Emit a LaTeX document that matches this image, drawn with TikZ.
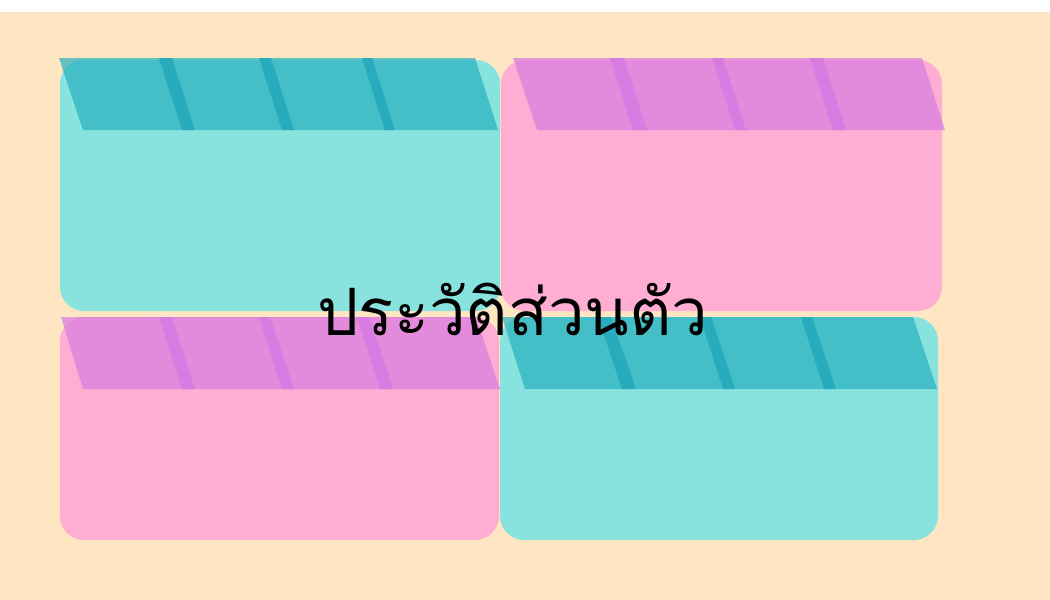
\documentclass[tikz,border=0pt]{standalone}
\usepackage{xcolor}
\usepackage{fontspec}
\newfontfamily\thaifont[Script=Thai]{Loma}
\usepackage{tikz}

\definecolor{peach}{RGB}{255,230,194}
\definecolor{tealcard}{RGB}{136,227,223}
\definecolor{tealhead}{RGB}{40,175,190}
\definecolor{tealstripe}{RGB}{39,171,189}
\definecolor{pinkcard}{RGB}{255,173,211}
\definecolor{pinkhead}{RGB}{216,124,224}
\definecolor{pinkstripe}{RGB}{216,123,227}

\tikzset{
  card/.style={rounded corners=18pt, draw=none},
  header/.style={draw=none, fill opacity=0.7},
  stripe/.style={draw=none}
}

\begin{document}
\begin{tikzpicture}[x=0.75pt,y=0.75pt,yscale=-1,xscale=1]
\useasboundingbox (0,0) rectangle (1050,600);

%Background
\fill [white] (0,0) rectangle (1050,600) ;
\fill [peach] (0,12) rectangle (1050,600) ;

%Shape: Rounded Rect [id:top left]
\draw [card, fill=tealcard] (60,60) rectangle (500,311) ;
%Shape: Parallelogram
\draw [header, fill=tealhead] (59,58) -- (475,58) -- (498,130) -- (83,130) -- cycle ;
%Stripes
\draw [stripe, fill=tealstripe] (159,58) -- (172,58) -- (195,130) -- (182,130) -- cycle ;
\draw [stripe, fill=tealstripe] (259,58) -- (271,58) -- (294,130) -- (282,130) -- cycle ;
\draw [stripe, fill=tealstripe] (362,58) -- (372,58) -- (395,130) -- (385,130) -- cycle ;

%Shape: Rounded Rect [id:top right]
\draw [card, fill=pinkcard] (501,60) rectangle (942,311) ;
%Shape: Parallelogram
\draw [header, fill=pinkhead] (513,58) -- (922,58) -- (945,130) -- (537,130) -- cycle ;
%Stripes
\draw [stripe, fill=pinkstripe] (610,58) -- (624,58) -- (647,130) -- (633,130) -- cycle ;
\draw [stripe, fill=pinkstripe] (712,58) -- (723,58) -- (746,130) -- (735,130) -- cycle ;
\draw [stripe, fill=pinkstripe] (810,58) -- (823,58) -- (846,130) -- (833,130) -- cycle ;

%Shape: Rounded Rect [id:bottom left]
\draw [card, fill=pinkcard] (60,317) rectangle (499,540) ;
%Shape: Parallelogram
\draw [header, fill=pinkhead] (61,317) -- (476,317) -- (500,389) -- (83,389) -- cycle ;
%Stripes
\draw [stripe, fill=pinkstripe] (159,317) -- (172,317) -- (195,389) -- (182,389) -- cycle ;
\draw [stripe, fill=pinkstripe] (259,317) -- (270,317) -- (294,389) -- (282,389) -- cycle ;
\draw [stripe, fill=pinkstripe] (357,317) -- (369,317) -- (393,389) -- (380,389) -- cycle ;

%Shape: Rounded Rect [id:bottom right]
\draw [card, fill=tealcard] (500,317) rectangle (938,540) ;
%Shape: Parallelogram
\draw [header, fill=tealhead] (502,317) -- (913,317) -- (937,389) -- (525,389) -- cycle ;
%Stripes
\draw [stripe, fill=tealstripe] (598,317) -- (611,317) -- (636,389) -- (622,389) -- cycle ;
\draw [stripe, fill=tealstripe] (700,317) -- (711,317) -- (735,389) -- (723,389) -- cycle ;
\draw [stripe, fill=tealstripe] (801,317) -- (812,317) -- (836,389) -- (824,389) -- cycle ;

% Text Node
\node (title) at (513,335) [anchor=base, inner sep=0pt]
{\thaifont\fontsize{49}{58}\selectfont ประวัติส่วนตัว};

\end{tikzpicture}
\end{document}
